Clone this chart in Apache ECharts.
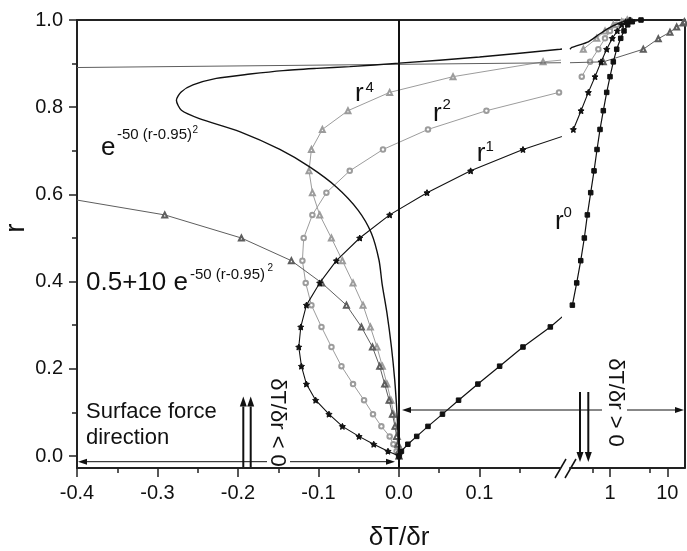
<!DOCTYPE html>
<html>
<head>
<meta charset="utf-8">
<script src="https://cdn.jsdelivr.net/npm/echarts@6/dist/echarts.min.js"></script>
<style>
  html, body { margin: 0; background: #fff; }
  #chart { width: 687px; height: 551px; }
</style>
</head>
<body>
<div id="chart"></div>
<script>
// radii at which the computed curves carry their markers
var rPts = [0, 0.011, 0.027, 0.045, 0.068, 0.096, 0.128, 0.165, 0.206, 0.25, 0.296, 0.346, 0.397, 0.448,
  0.5, 0.553, 0.604, 0.654, 0.703, 0.749, 0.792, 0.834, 0.870, 0.904, 0.933, 0.958, 0.975, 0.989, 0.996, 1.0];

// dT/dr at those radii, one list per profile
var dTdrR0 = [0, 0.003, 0.011, 0.022, 0.036, 0.054, 0.074, 0.098, 0.125, 0.154, 0.188, 0.22, 0.262, 0.308,
  0.356, 0.402, 0.46, 0.526, 0.593, 0.669, 0.764, 0.875, 1.0, 1.142, 1.309, 1.537, 1.755, 2.036, 2.449, 3.476];
var dTdrR1 = [0, -0.0137, -0.0314, -0.0497, -0.0703, -0.087, -0.1035, -0.115, -0.1212, -0.1245, -0.122, -0.115,
  -0.0985, -0.0778, -0.0488, -0.0116, 0.0348, 0.089, 0.154, 0.229, 0.312, 0.418, 0.547, 0.697, 0.875, 1.097,
  1.34, 1.6, 1.88, 2.234];
var dTdrR2 = [0, -0.003, -0.007, -0.0116, -0.0219, -0.0323, -0.0434, -0.0571, -0.0715, -0.0839, -0.0963, -0.1088,
  -0.1159, -0.12, -0.1184, -0.1076, -0.0902, -0.0612, -0.0199, 0.036, 0.1086, 0.1988, 0.321, 0.448, 0.625,
  0.818, 1.0, 1.309, 1.706, 2.2];
var dTdrR4 = [0, 0, -0.001, -0.002, -0.004, -0.0065, -0.010, -0.015, -0.0207, -0.0274, -0.0356, -0.0447,
  -0.0571, -0.0703, -0.084, -0.0985, -0.1076, -0.1118, -0.1088, -0.0952, -0.0634, -0.0116, 0.0671, 0.179,
  0.342, 0.586, 0.818, 1.142, 1.6, 2.0];

// e^-50(r-0.95)^2 : [dT/dr, r]
var gaussCurve = [[0, 0], [-0.0005, 0.021], [-0.0025, 0.098], [-0.0053, 0.174], [-0.0094, 0.25],
  [-0.0149, 0.327], [-0.021, 0.395], [-0.0248, 0.449], [-0.0343, 0.511], [-0.0509, 0.564], [-0.0778, 0.617],
  [-0.111, 0.663], [-0.148, 0.703], [-0.198, 0.744], [-0.248, 0.774], [-0.2703, 0.793], [-0.2765, 0.816],
  [-0.2706, 0.835], [-0.256, 0.851], [-0.227, 0.866], [-0.185, 0.876], [-0.144, 0.884], [-0.102, 0.889],
  [-0.0612, 0.893], [0, 0.901], [0.1, 0.915], [0.2, 0.933], [0.215, 0.937], [0.418, 0.950], [0.625, 0.966],
  [0.934, 0.981], [1.396, 0.992], [1.955, 0.998], [2.73, 1.0]];

// 0.5+10 e^-50(r-0.95)^2 : two branches, both leave the plot on the left
var tenGaussLow = [[-0.4, 0.587], [-0.291, 0.553], [-0.1958, 0.5], [-0.1337, 0.448], [-0.096, 0.397],
  [-0.0653, 0.346], [-0.0467, 0.296], [-0.033, 0.25], [-0.024, 0.206], [-0.0178, 0.165], [-0.0123, 0.128],
  [-0.0082, 0.096], [-0.005, 0.068], [-0.003, 0.045], [-0.0015, 0.027], [-0.0005, 0.011], [0, 0]];
var tenGaussHigh = [[-0.4, 0.891], [0.2, 0.902], [0.764, 0.904], [3.81, 0.933], [6.97, 0.957],
  [11.15, 0.972], [14.59, 0.984], [19.0, 0.993], [20, 0.996]];

var linTicks = [-0.4, -0.3, -0.2, -0.1, 0, 0.1];
var linMinorTicks = [-0.35, -0.25, -0.15, -0.05, 0.05, 0.15];
var logTicks = [1, 10];
var logMinorTicks = [0.5, 5];
var rTicks = [0, 0.2, 0.4, 0.6, 0.8, 1.0];
var rMinorTicks = [0.1, 0.3, 0.5, 0.7, 0.9];

var LIN_MIN = -0.4, LIN_MAX = 0.2, LOG_MIN = 0.2, LOG_MAX = 20, R_MIN = -0.0275, R_MAX = 1.0;
var FONT = '"Liberation Sans", Arial, sans-serif';
var INK = '#111';

function withR(xs) {
  return xs.map(function (x, i) { return [x, rPts[i]]; });
}

// every curve is drawn twice: once on the linear part, once on the log part of the broken axis
function curve(pts, st) {
  var size = function (v) { return (v[0] <= LIN_MIN || v[0] === LIN_MAX) ? 0 : st.size; };
  var base = {
    type: 'line',
    symbol: st.symbol || 'none',
    symbolSize: size,
    showSymbol: !!st.symbol,
    smooth: st.smooth || false,
    lineStyle: { color: st.color, width: st.width },
    itemStyle: { color: st.color, borderColor: st.color, borderWidth: st.border || 1 },
    clip: true,
    silent: true,
    z: st.z
  };
  var lin = Object.assign({}, base, { xAxisIndex: 0, yAxisIndex: 0, data: pts });
  var log = Object.assign({}, base, {
    xAxisIndex: 2, yAxisIndex: 2,
    data: pts.filter(function (p) { return p[0] >= LOG_MIN; })
  });
  return [lin, log];
}

var STAR = 'path://M0,-10L2.9,-4L9.5,-3.1L4.7,1.5L5.9,8.1L0,5L-5.9,8.1L-4.7,1.5L-9.5,-3.1L-2.9,-4Z';
var LIGHT = '#9c9c9c', DARK = '#5e5e5e';

var series = [].concat(
  curve(withR(dTdrR4), { symbol: 'emptyTriangle', size: 5, color: LIGHT, width: 1, border: 0.8, z: 2 }),
  curve(withR(dTdrR2), { symbol: 'emptyCircle', size: 4.5, color: LIGHT, width: 1, border: 0.8, z: 2 }),
  curve(tenGaussLow, { symbol: 'emptyTriangle', size: 5, color: DARK, width: 1, border: 0.8, z: 3 }),
  curve(tenGaussHigh, { symbol: 'emptyTriangle', size: 5, color: DARK, width: 1, border: 0.8, z: 3 }),
  curve(gaussCurve, { color: INK, width: 1.4, z: 4, smooth: 0.25 }),
  curve(withR(dTdrR1), { symbol: STAR, size: 6, color: INK, width: 1.1, z: 5 }),
  curve(withR(dTdrR0), { symbol: 'rect', size: 4.5, color: INK, width: 1.2, z: 5 })
);

// vertical line at dT/dr = 0
series[0].markLine = {
  silent: true, symbol: ['none', 'none'], label: { show: false }, animation: false,
  lineStyle: { color: INK, width: 2, type: 'solid' },
  data: [{ xAxis: 0 }]
};

var axisLineStyle = { color: '#222', width: 2 };
var labelStyle = { color: INK, fontSize: 20, fontFamily: FONT };
var fmt1 = function (v) { return Number(v).toFixed(1); };

function arrow(x1, y1, x2, y2, w, len, half) {
  var dx = x2 - x1, dy = y2 - y1, L = Math.sqrt(dx * dx + dy * dy), ux = dx / L, uy = dy / L;
  var bx = x2 - ux * len, by = y2 - uy * len;
  return [
    { type: 'line', shape: { x1: x1, y1: y1, x2: bx, y2: by }, style: { stroke: INK, lineWidth: w } },
    { type: 'polygon', shape: { points: [[x2, y2], [bx - uy * half, by + ux * half], [bx + uy * half, by - ux * half]] },
      style: { fill: INK } }
  ];
}

function txt(s, x, y, size, extra) {
  var el = { type: 'text', x: x, y: y, style: { text: s, x: 0, y: 0, fill: INK,
    font: size + 'px ' + FONT, textAlign: 'left', textVerticalAlign: 'middle' } };
  if (extra) {
    if (extra.rotation !== undefined) el.rotation = extra.rotation;
    if (extra.align) el.style.textAlign = extra.align;
  }
  return el;
}

var graphics = [].concat(
  // curve labels
  txt('e', 101, 148, 26), txt('-50 (r-0.95)', 117, 135, 15), txt('2', 192.5, 130.5, 10),
  txt('0.5+10 e', 86, 282.6, 26), txt('-50 (r-0.95)', 190, 274.5, 15), txt('2', 267.5, 268.5, 10),
  txt('r', 355, 94, 26), txt('4', 365.5, 88, 15),
  txt('r', 433, 113.5, 26), txt('2', 442.5, 104.8, 15),
  txt('r', 476.7, 154.2, 26), txt('1', 485.5, 146.5, 15),
  txt('r', 555, 221.9, 26), txt('0', 563.5, 212.8, 15),
  // direction notes
  txt('Surface force', 86, 411.6, 22), txt('direction', 86, 438, 22),
  txt('\u03b4T/\u03b4r < 0', 277.5, 422.5, 22, { rotation: -Math.PI / 2, align: 'center' }),
  txt('\u03b4T/\u03b4r > 0', 615, 402.5, 22, { rotation: -Math.PI / 2, align: 'center' }),
  // axis names
  txt('\u03b4T/\u03b4r', 399, 537.6, 26, { align: 'center' }),
  txt('r', 16, 228, 28, { rotation: Math.PI / 2, align: 'center' }),
  // arrows
  arrow(267, 461.7, 78, 461.7, 1, 9, 3), arrow(290, 461.7, 395, 461.7, 1, 9, 3),
  arrow(602, 410, 402, 410, 1, 9, 3), arrow(627, 410, 684, 410, 1, 9, 3),
  arrow(243.3, 468, 243.3, 396.5, 2, 10, 3.5), arrow(250.7, 468, 250.7, 396.5, 2, 10, 3.5),
  arrow(580, 392, 580, 462, 2, 10, 3.5), arrow(588.3, 392, 588.3, 462, 2, 10, 3.5),
  // axis break marks
  [{ type: 'line', shape: { x1: 555, y1: 478, x2: 566, y2: 459 }, style: { stroke: INK, lineWidth: 1.5 } },
   { type: 'line', shape: { x1: 565, y1: 478, x2: 576, y2: 459 }, style: { stroke: INK, lineWidth: 1.5 } }]
);

var option = {
  backgroundColor: '#ffffff',
  animation: false,
  grid: [
    { left: 77, top: 20, width: 483, height: 448 },
    { left: 570, top: 20, width: 114.5, height: 448 },
    { left: 77, top: 20, width: 607.5, height: 448 }
  ],
  xAxis: [
    { gridIndex: 0, type: 'value', min: LIN_MIN, max: LIN_MAX, position: 'bottom',
      axisLine: { onZero: false, lineStyle: axisLineStyle },
      axisTick: { customValues: linTicks, length: 9, lineStyle: { color: '#222', width: 1.5 } },
      axisLabel: Object.assign({ customValues: linTicks, formatter: fmt1, margin: 15 }, labelStyle),
      splitLine: { show: false } },
    { gridIndex: 0, type: 'value', min: LIN_MIN, max: LIN_MAX, position: 'bottom',
      axisLine: { show: false, onZero: false },
      axisTick: { customValues: linMinorTicks, length: 5, lineStyle: { color: '#222', width: 1.5 } },
      axisLabel: { show: false }, splitLine: { show: false } },
    { gridIndex: 1, type: 'log', logBase: 10, min: LOG_MIN, max: LOG_MAX, position: 'bottom',
      axisLine: { onZero: false, lineStyle: axisLineStyle },
      axisTick: { customValues: logTicks, length: 9, lineStyle: { color: '#222', width: 1.5 } },
      axisLabel: Object.assign({ customValues: logTicks, formatter: function (v) { return String(v); }, margin: 15 }, labelStyle),
      splitLine: { show: false }, minorTick: { show: false } },
    { gridIndex: 1, type: 'log', logBase: 10, min: LOG_MIN, max: LOG_MAX, position: 'bottom',
      axisLine: { show: false, onZero: false },
      axisTick: { customValues: logMinorTicks, length: 5, lineStyle: { color: '#222', width: 1.5 } },
      axisLabel: { show: false }, splitLine: { show: false } },
    { gridIndex: 2, type: 'value', min: 0, max: 1, position: 'top',
      axisLine: { onZero: false, lineStyle: axisLineStyle }, axisTick: { show: false }, axisLabel: { show: false },
      splitLine: { show: false } }
  ],
  yAxis: [
    { gridIndex: 0, type: 'value', min: R_MIN, max: R_MAX, position: 'left',
      axisLine: { show: true, onZero: false, lineStyle: axisLineStyle },
      axisTick: { show: true, customValues: rTicks, length: 8, lineStyle: { color: '#222', width: 1.5 } },
      axisLabel: Object.assign({ customValues: rTicks, formatter: fmt1, margin: 14 }, labelStyle),
      splitLine: { show: false } },
    { gridIndex: 0, type: 'value', min: R_MIN, max: R_MAX, position: 'left',
      axisLine: { show: false, onZero: false },
      axisTick: { show: true, customValues: rMinorTicks, length: 5, lineStyle: { color: '#222', width: 1.5 } },
      axisLabel: { show: false }, splitLine: { show: false } },
    { gridIndex: 1, type: 'value', min: R_MIN, max: R_MAX, show: false, axisLine: { onZero: false } },
    { gridIndex: 2, type: 'value', min: 0, max: 1, position: 'right',
      axisLine: { show: true, onZero: false, lineStyle: axisLineStyle }, axisTick: { show: false }, axisLabel: { show: false },
      splitLine: { show: false } }
  ],
  series: series,
  graphic: { elements: graphics }
};

var chart = echarts.init(document.getElementById('chart'), null, { renderer: 'canvas' });
chart.setOption(option);
</script>
</body>
</html>
